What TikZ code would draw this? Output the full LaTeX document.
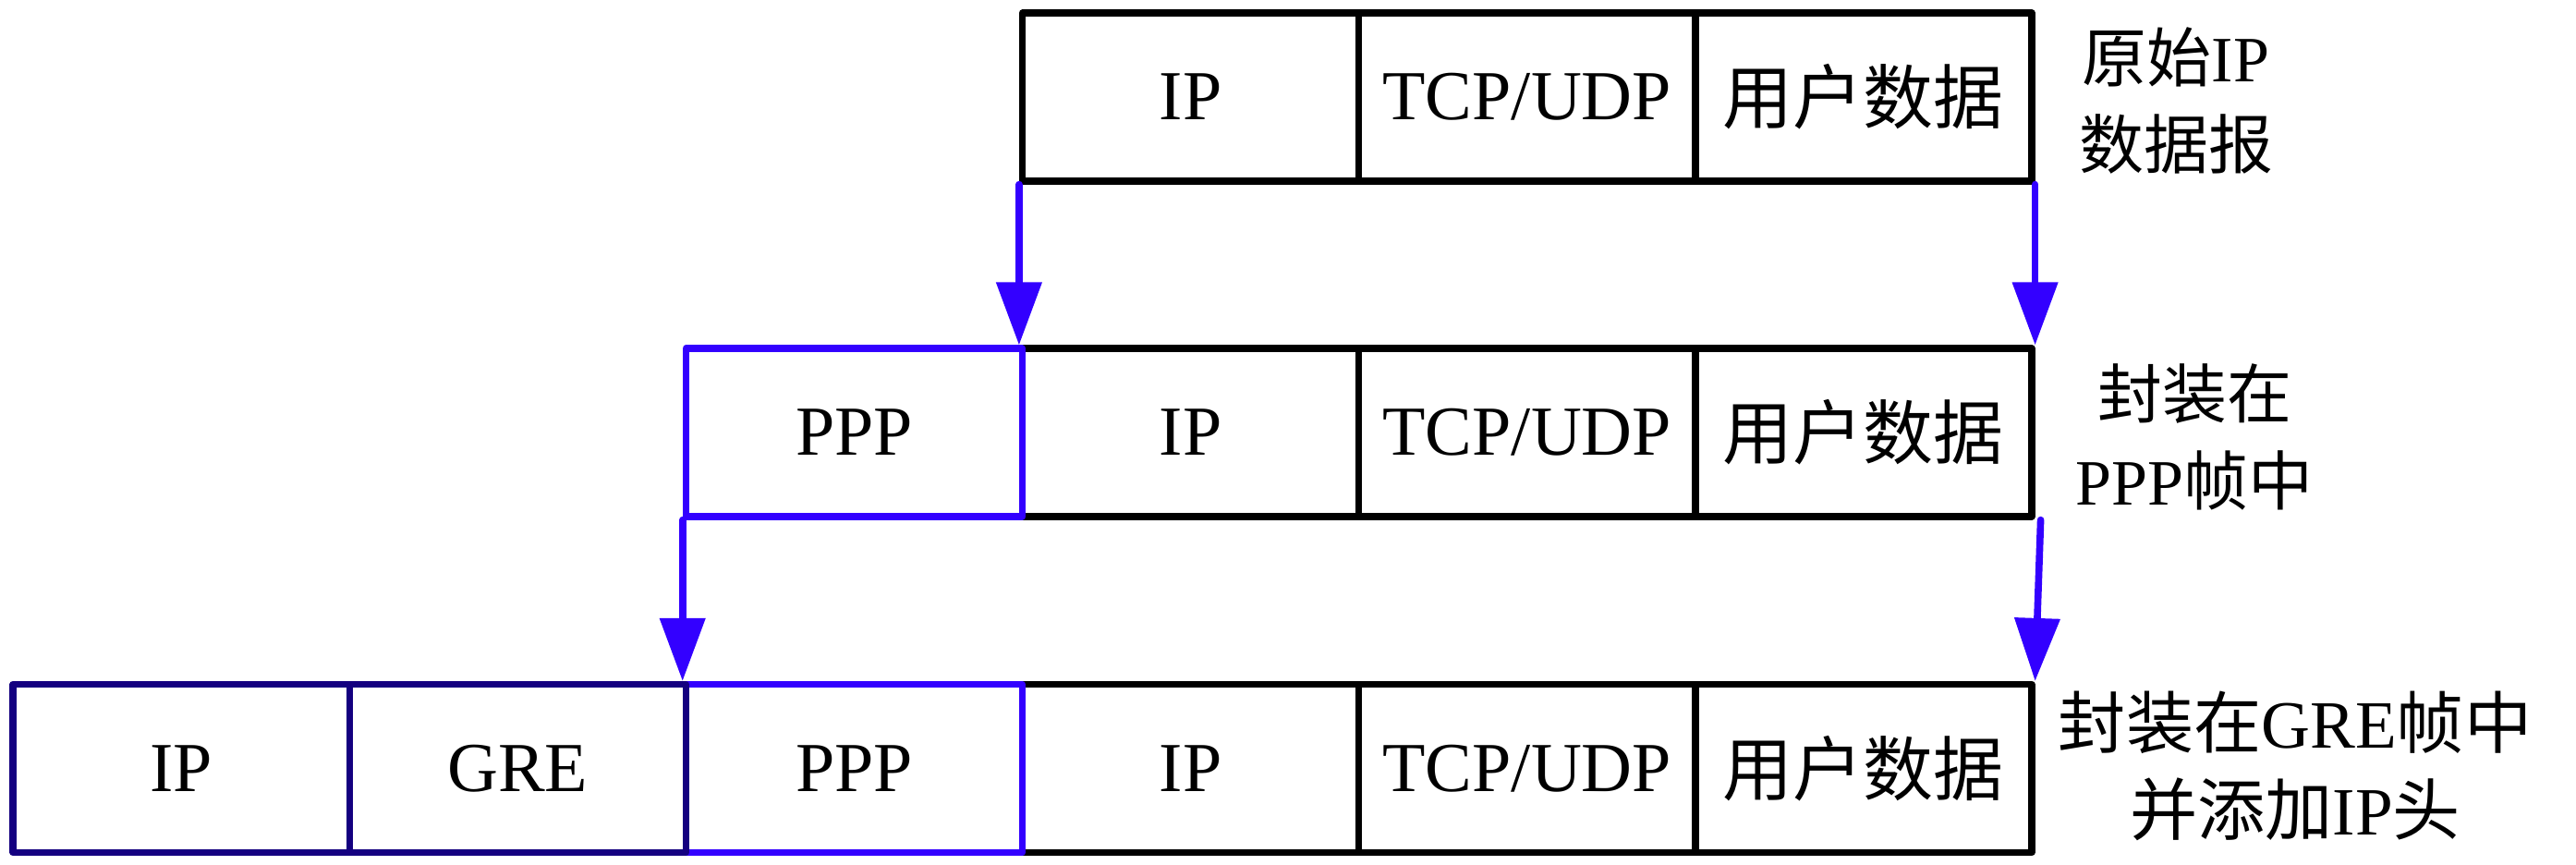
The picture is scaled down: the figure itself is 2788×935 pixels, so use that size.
\documentclass[tikz,border=0pt]{standalone}
\usepackage{fontspec}
\setmainfont{Liberation Serif}
\newfontfamily\cjk{Noto Sans CJK SC}
\usetikzlibrary{arrows.meta}
\definecolor{pblue}{RGB}{51,0,255}
\definecolor{pnavy}{RGB}{20,0,128}
\tikzset{
  cell/.style={draw=black, line width=1.8pt, minimum width=91.05pt, minimum height=45.5pt,
               inner sep=0pt, font=\fontsize{19}{22}\selectfont, line join=round},
  pppcell/.style={cell, draw=pblue},
  navycell/.style={cell, draw=pnavy},
  conn/.style={draw=pblue, line width=1.9pt, line cap=round,
               -{Triangle[length=17pt,width=12pt]}},
  lab/.style={align=center, font=\fontsize{17.5}{23.5}\selectfont, inner sep=0pt}
}
\begin{document}
\begin{tikzpicture}[x=0.25pt,y=-0.25pt]
\useasboundingbox (0,0) rectangle (2788,935);
% top row
\node[cell] (t1) at (1288.6,105) {IP};
\node[cell] (t2) at (1652.8,105) {TCP/UDP};
\node[cell] (t3) at (2016.9,105) {{\cjk 用户数据}};
% middle row
\node[cell] (m1) at (1288.6,468) {IP};
\node[cell] (m2) at (1652.8,468) {TCP/UDP};
\node[cell] (m3) at (2016.9,468) {{\cjk 用户数据}};
\node[pppcell] (m0) at (924.4,468) {PPP};
% bottom row
\node[cell] (b4) at (1288.6,831.5) {IP};
\node[cell] (b5) at (1652.8,831.5) {TCP/UDP};
\node[cell] (b6) at (2016.9,831.5) {{\cjk 用户数据}};
\node[pppcell] (b3) at (924.4,831.5) {PPP};
\node[navycell] (b2) at (560.2,831.5) {GRE};
\node[navycell] (b1) at (196.1,831.5) {IP};
% labels
\node[lab] (l1) at (2355,109) {{\cjk 原始}IP\\{\cjk 数据报}};
\node[lab] (l2) at (2375,473) {{\cjk 封装在}\\PPP{\cjk 帧中}};
\node[lab,font=\fontsize{18.3}{23.5}\selectfont] (l3) at (2484,829) {{\cjk 封装在}GRE{\cjk 帧中}\\{\cjk 并添加}IP{\cjk 头}};
% connectors
\draw[conn] (t1.south west) -- (m1.north west);
\draw[conn] (t3.south east) -- (m3.north east);
\draw[conn] (m0.south west) -- (b3.north west);
\draw[conn] ([xshift=1.5pt]m3.south east) -- (b6.north east);
\end{tikzpicture}
\end{document}
